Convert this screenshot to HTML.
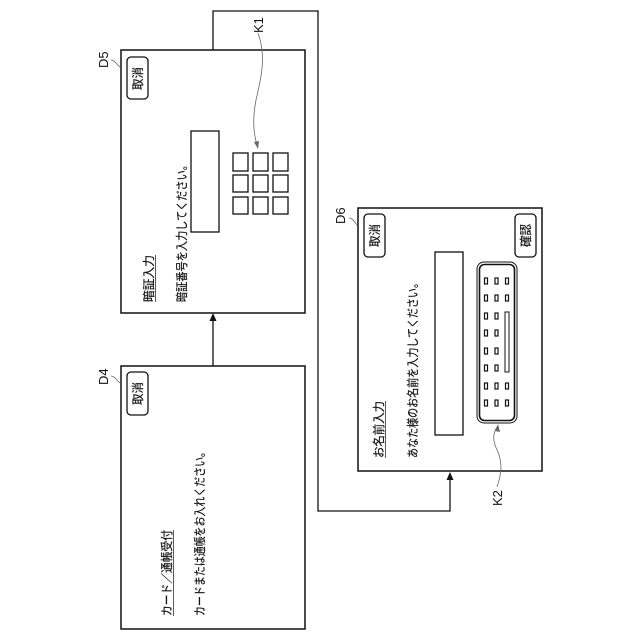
<!DOCTYPE html>
<html><head><meta charset="utf-8"><style>
html,body{margin:0;padding:0;background:#fff}
svg{display:block}
text{font-family:"Liberation Sans","Noto Sans CJK JP",sans-serif;fill:#111}
.j{font-size:12px;stroke:#111;stroke-width:.2px}
</style></head><body>
<svg width="640" height="640" viewBox="0 0 640 640" xmlns="http://www.w3.org/2000/svg">
<g fill="none" stroke="#111" stroke-width="1.3">
<path d="M213 50V11H318V511H450V478"/>
<path d="M213 366V319"/>
<rect x="121" y="50" width="184" height="263" stroke-width="1.5"/>
<rect x="121" y="366" width="184" height="263" stroke-width="1.5"/>
<rect x="358" y="208" width="184" height="263" stroke-width="1.5"/>
<rect x="127" y="57" width="21" height="42" rx="4"/>
<rect x="127" y="372" width="21" height="43" rx="4"/>
<rect x="364" y="214" width="21" height="43" rx="4"/>
<rect x="515" y="214" width="21" height="43" rx="4"/>
<rect x="191" y="131" width="28" height="101"/>
<rect x="435" y="252" width="28" height="183"/>
<rect x="233" y="153" width="15" height="18"/><rect x="253" y="153" width="15" height="18"/><rect x="273" y="153" width="15" height="18"/>
<rect x="233" y="175" width="15" height="17"/><rect x="253" y="175" width="15" height="17"/><rect x="273" y="175" width="15" height="17"/>
<rect x="233" y="197" width="15" height="17"/><rect x="253" y="197" width="15" height="17"/><rect x="273" y="197" width="15" height="17"/>
<rect x="477" y="262" width="40" height="161" rx="7" stroke-width="1"/>
<rect x="479.500" y="264.500" width="35" height="156" rx="5" stroke-width="1.600"/>
<rect x="505" y="312" width="4" height="60" stroke-width="1"/>
</g>
<g fill="none" stroke="#111" stroke-width="1.2">
<rect x="484.500" y="278" width="3" height="6"/><rect x="495" y="278" width="3" height="6"/><rect x="505.500" y="278" width="3" height="6"/>
<rect x="484.500" y="295" width="3" height="6"/><rect x="495" y="295" width="3" height="6"/><rect x="505.500" y="295" width="3" height="6"/>
<rect x="484.500" y="313" width="3" height="6"/><rect x="495" y="313" width="3" height="6"/>
<rect x="484.500" y="330" width="3" height="6"/><rect x="495" y="330" width="3" height="6"/>
<rect x="484.500" y="348" width="3" height="6"/><rect x="495" y="348" width="3" height="6"/>
<rect x="484.500" y="365" width="3" height="6"/><rect x="495" y="365" width="3" height="6"/>
<rect x="484.500" y="383" width="3" height="6"/><rect x="495" y="383" width="3" height="6"/><rect x="505.500" y="383" width="3" height="6"/>
<rect x="484.500" y="400" width="3" height="6"/><rect x="495" y="400" width="3" height="6"/><rect x="505.500" y="400" width="3" height="6"/>
</g>
<path d="M213 313l-3.500 8h7zM450 472l-3.500 8h7z" fill="#111"/>
<g fill="none" stroke="#666" stroke-width="0.8">
<path d="M111 60C115 60 117 65 120 67"/>
<path d="M111 376C115 376 117 381 120 383"/>
<path d="M349 218C353 218 355 223 357 225"/>
<path d="M258 33C266 55 262 75 256 100C252 120 254 135 257 145"/>
<path d="M497 487C501 475 503 465 498 452C493 442 492 435 497 427"/>
</g>
<path d="M258 149l-4-7 5-1zM498 424l-3 7 5 1z" fill="#666"/>
<g style="font-size:13px">
<text transform="translate(108 68) rotate(-90)">D5</text>
<text transform="translate(108 385) rotate(-90)">D4</text>
<text transform="translate(345 224) rotate(-90)">D6</text>
<text transform="translate(263 33) rotate(-90)">K1</text>
<text transform="translate(502 506) rotate(-90)">K2</text>
</g>
<g class="j">
<text transform="translate(142 90) rotate(-90)" textLength="23" lengthAdjust="spacingAndGlyphs">取消</text>
<text transform="translate(142 405) rotate(-90)" textLength="23" lengthAdjust="spacingAndGlyphs">取消</text>
<text transform="translate(379 247) rotate(-90)" textLength="23" lengthAdjust="spacingAndGlyphs">取消</text>
<text transform="translate(530 247) rotate(-90)" textLength="23" lengthAdjust="spacingAndGlyphs">確認</text>
<text transform="translate(153 302) rotate(-90)" textLength="47" lengthAdjust="spacingAndGlyphs">暗証入力</text>
<text transform="translate(186 302) rotate(-90)" textLength="142" lengthAdjust="spacingAndGlyphs">暗証番号を入力してください。</text>
<text transform="translate(171 616) rotate(-90)" textLength="86" lengthAdjust="spacingAndGlyphs">カード／通帳受付</text>
<text transform="translate(204 616) rotate(-90)" textLength="169" lengthAdjust="spacingAndGlyphs">カードまたは通帳をお入れください。</text>
<text transform="translate(383 458) rotate(-90)" textLength="57" lengthAdjust="spacingAndGlyphs">お名前入力</text>
<text transform="translate(417 458) rotate(-90)" textLength="180" lengthAdjust="spacingAndGlyphs">あなた様のお名前を入力してください。</text>
</g>
<g stroke="#333" stroke-width="0.8">
<path d="M155.500 302V255M173.500 616V530M385.500 458V401"/>
</g>
</svg>
</body></html>
